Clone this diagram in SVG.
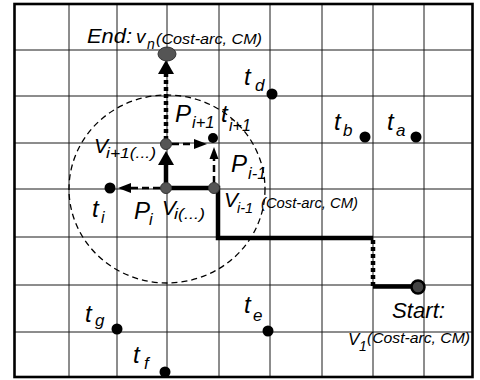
<svg xmlns="http://www.w3.org/2000/svg" width="480" height="380" viewBox="0 0 480 380">
<style>
.grid{stroke:#1a1a1a;stroke-width:1;fill:none}
.lbl{font-family:"Liberation Sans",Arial,sans-serif;font-style:italic;fill:#000}
.dot{fill:#000}
.vnode{fill:#555;stroke:#333;stroke-width:1}
.thick{stroke:#000;stroke-width:4.5;fill:none}
.dotted{stroke:#000;stroke-width:4.5;stroke-dasharray:4 3;fill:none}
.dashed{stroke:#000;stroke-width:2.5;stroke-dasharray:7 4;fill:none}
.head{fill:#000}
</style>
<rect x="0" y="0" width="480" height="380" fill="#fff"/>
<g id="grid">
<path class="grid" d="M69 4V377M117 4V377M167 4V377M219 4V377M270 4V377M322 4V377M373 4V377M424 4V377"/>
<path class="grid" d="M14 50H472M14 96H472M14 143H472M14 189H472M14 237H472M14 285H472M14 332H472"/>
<rect x="14.5" y="4" width="458" height="373" fill="none" stroke="#000" stroke-width="2.6"/>
</g>
<ellipse id="search-circle" cx="167" cy="189" rx="98" ry="94" fill="none" stroke="#000" stroke-width="1.3" stroke-dasharray="6 4"/>
<g id="connectors">
<path class="thick" d="M412 286.5H373"/>
<path class="dotted" d="M373 286V238"/>
<path class="thick" d="M373 238H218V188H166"/>
<path class="thick" d="M166 183V164"/>
<polygon class="head" points="166,151 158,165 174,165"/>
<path class="dotted" d="M166 140V72"/>
<polygon class="head" points="166,60 158,74 174,74"/>
<path class="dashed" d="M172 144H196"/>
<polygon class="head" points="207,144 194,139 194,149"/>
<path class="dashed" d="M214 183V159"/>
<polygon class="head" points="214,147 209.5,159 218.5,159"/>
<path class="dashed" d="M160 188H131"/>
<polygon class="head" points="118,188 131,183 131,193"/>
</g>
<g id="node-end"><ellipse class="vnode" cx="167" cy="54" rx="9" ry="7"/>
<text class="lbl" x="87" y="43" font-size="21" textLength="45" lengthAdjust="spacingAndGlyphs">End:</text>
<text class="lbl" x="136" y="43" font-size="19">v</text>
<text class="lbl" x="147" y="49" font-size="14">n</text>
<text class="lbl" x="156" y="44" font-size="15" textLength="106" lengthAdjust="spacingAndGlyphs">(Cost-arc, CM)</text></g>
<g id="node-start"><circle cx="418" cy="287" r="6.5" fill="#444" stroke="#000" stroke-width="2.5"/>
<text class="lbl" x="392" y="318" font-size="22" textLength="53" lengthAdjust="spacingAndGlyphs">Start:</text>
<text class="lbl" x="348" y="345" font-size="17">V</text>
<text class="lbl" x="359" y="351" font-size="14">1</text>
<text class="lbl" x="367" y="343" font-size="15.5" textLength="103" lengthAdjust="spacingAndGlyphs">(Cost-arc, CM)</text></g>
<g id="node-vi1"><circle class="vnode" cx="166" cy="144" r="5.5"/>
<text class="lbl" x="94" y="153" font-size="21">V</text>
<text class="lbl" x="106" y="158" font-size="14.5" textLength="50" lengthAdjust="spacingAndGlyphs">i+1(...)</text></g>
<g id="node-vi"><circle class="vnode" cx="166" cy="188" r="5.5"/>
<text class="lbl" x="162" y="215" font-size="21">V</text>
<text class="lbl" x="174" y="219" font-size="14.5" textLength="31" lengthAdjust="spacingAndGlyphs">i(...)</text></g>
<g id="node-vim1"><circle class="vnode" cx="214" cy="188" r="5.5"/>
<text class="lbl" x="224" y="207" font-size="21">V</text>
<text class="lbl" x="237" y="213" font-size="14.5">i-1</text>
<text class="lbl" x="261" y="208" font-size="15" textLength="97" lengthAdjust="spacingAndGlyphs">(Cost-arc, CM)</text></g>
<g id="label-pi1"><text class="lbl" x="175" y="122" font-size="24">P</text><text class="lbl" x="192" y="128" font-size="16.5">i+1</text></g>
<g id="label-pim1"><text class="lbl" x="231" y="172" font-size="24">P</text><text class="lbl" x="248" y="179" font-size="16.5">i-1</text></g>
<g id="label-pi"><text class="lbl" x="134" y="219" font-size="24">P</text><text class="lbl" x="149" y="225" font-size="16.5">i</text></g>
<g id="t-i1"><circle class="dot" cx="213" cy="138" r="5"/><text class="lbl" x="221" y="122" font-size="24">t</text><text class="lbl" x="229" y="131" font-size="16">i+1</text></g>
<g id="t-i"><circle class="dot" cx="110" cy="188" r="5.5"/><text class="lbl" x="92" y="217" font-size="24">t</text><text class="lbl" x="101" y="223" font-size="16">i</text></g>
<g id="t-d"><circle class="dot" cx="272" cy="94" r="5.5"/><text class="lbl" x="244" y="85" font-size="24">t</text><text class="lbl" x="255" y="91" font-size="17">d</text></g>
<g id="t-b"><circle class="dot" cx="365" cy="137" r="5.5"/><text class="lbl" x="334" y="130" font-size="24">t</text><text class="lbl" x="343" y="136" font-size="17">b</text></g>
<g id="t-a"><circle class="dot" cx="416" cy="137" r="5.5"/><text class="lbl" x="387" y="130" font-size="24">t</text><text class="lbl" x="396" y="136" font-size="17">a</text></g>
<g id="t-e"><circle class="dot" cx="268" cy="331" r="5.5"/><text class="lbl" x="244" y="313" font-size="24">t</text><text class="lbl" x="253" y="321" font-size="17">e</text></g>
<g id="t-g"><circle class="dot" cx="117" cy="329" r="5.5"/><text class="lbl" x="85" y="322" font-size="24">t</text><text class="lbl" x="95" y="326" font-size="17">g</text></g>
<g id="t-f"><circle class="dot" cx="165" cy="372" r="5.5"/><text class="lbl" x="133" y="363" font-size="24">t</text><text class="lbl" x="144" y="369" font-size="17">f</text></g>
</svg>
